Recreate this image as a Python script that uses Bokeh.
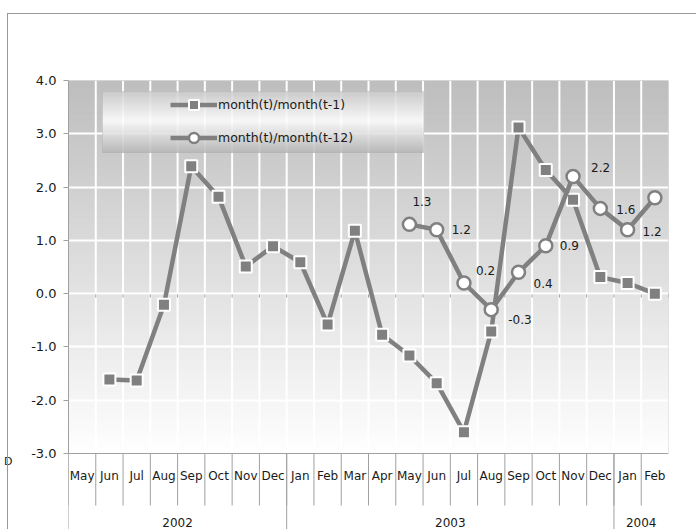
import numpy as np
from bokeh.plotting import figure
from bokeh.models import (Range1d, FixedTicker, Legend, LegendItem, InlineStyleSheet, LinearAxis,
                          BoxAnnotation, ColumnDataSource, NumeralTickFormatter)
from bokeh.embed import file_html
from bokeh.resources import INLINE

# ---------------- data ----------------
months = ["May", "Jun", "Jul", "Aug", "Sep", "Oct", "Nov", "Dec",
          "Jan", "Feb", "Mar", "Apr", "May", "Jun", "Jul", "Aug", "Sep", "Oct", "Nov", "Dec",
          "Jan", "Feb"]
years = ["2002", "2003", "2004"]
year_counts = [8, 12, 2]
mom = [np.nan, -1.61, -1.63, -0.21, 2.39, 1.82, 0.51, 0.89,
       0.59, -0.58, 1.18, -0.77, -1.16, -1.68, -2.60, -0.71, 3.12, 2.32, 1.76, 0.31,
       0.20, 0.0]
yoy = [np.nan] * 12 + [1.3, 1.2, 0.2, -0.3, 0.4, 0.9, 2.2, 1.6, 1.2, 1.8]
y_ticks = [-3, -2, -1, 0, 1, 2, 3, 4]
legend_labels = ["month(t)/month(t-1)", "month(t)/month(t-12)"]
stray_title = "D"

# label placement (screen px relative to point), styling only
label_dx = [3, 15, 12, 17, 15, 14, 18, 16, 15, 16]
label_dy = [-23, 0, -12, 10, 11, 0, -9, 1, 2, 2]

FONT = "DejaVu Sans"
GRAY = "#808080"
AXIS_GRAY = "#a0a0a0"
TXT = "#1a1a1a"

W, H = 696, 529
F_LEFT, F_RIGHT, F_TOP = 68, 28, 80
PLOT_BOTTOM_PX = 453          # pixel row of the lowest y tick
STRAY_PX = 461                # pixel row of the stray letter
n = len(months)
x = list(range(n))
bounds = [i - 0.5 for i in range(n + 1)]
y_min, y_max = min(y_ticks), max(y_ticks)
px_per_unit = (PLOT_BOTTOM_PX - F_TOP) / (y_max - y_min)
y_start = y_max - (H - F_TOP) / px_per_unit

p = figure(width=W, height=H, x_range=Range1d(bounds[0], bounds[-1]), y_range=Range1d(y_start, y_max),
           x_axis_location=None, output_backend="svg", toolbar_location=None,
           min_border_left=F_LEFT, min_border_right=F_RIGHT, min_border_top=F_TOP, min_border_bottom=0,
           background_fill_color="white", border_fill_color="white",
           outline_line_color=None)
p.xgrid.visible = False

# background gradient (plot area only)
ns = 120
edges = np.linspace(y_min, y_max, ns + 1)
mids = (edges[:-1] + edges[1:]) / 2
t = (mids - y_min) / (y_max - y_min)
g = 255 - t * (255 - 190)
cols = ["#%02x%02x%02x" % (int(v), int(v), int(v)) for v in g]
p.quad(left=bounds[0], right=bounds[-1], bottom=edges[:-1], top=edges[1:],
       fill_color=cols, line_color=cols, line_width=1, level="image")

# grids
p.ygrid.grid_line_color = "white"
p.ygrid.grid_line_width = 2
p.segment(x0=bounds[1:-1], y0=y_min, x1=bounds[1:-1], y1=y_max, line_color="white",
          line_width=2, level="underlay")
# frame top / right borders and bottom axis line
p.segment(x0=[bounds[0], bounds[-1]], y0=[y_max, y_min], x1=[bounds[-1], bounds[-1]], y1=[y_max, y_max],
          line_color="#d4d4d4", line_width=1, level="underlay")
p.segment(x0=bounds[0], y0=y_min, x1=bounds[-1], y1=y_min, line_color=AXIS_GRAY, line_width=1)

# y axis
ya = p.yaxis[0]
ya.ticker = FixedTicker(ticks=y_ticks)
ya.bounds = (y_min, y_max)
ya.formatter = NumeralTickFormatter(format="0.0")
ya.axis_line_color = AXIS_GRAY
ya.major_tick_line_color = AXIS_GRAY
ya.major_tick_out = 5
ya.major_tick_in = 0
ya.minor_tick_line_color = None
ya.major_label_text_font = FONT
ya.major_label_text_font_size = "13px"
ya.major_label_text_color = TXT
ya.major_label_standoff = 7

# stray clipped title letter at far left, as a second (label-only) left axis
y_stray = y_min - (STRAY_PX - PLOT_BOTTOM_PX) / px_per_unit
ax_s = LinearAxis(ticker=FixedTicker(ticks=[y_stray]), major_label_overrides={y_stray: stray_title})
ax_s.axis_line_color = None
ax_s.major_tick_line_color = None
ax_s.minor_tick_line_color = None
ax_s.major_tick_out = 0
ax_s.major_tick_in = 0
ax_s.major_label_standoff = 16
ax_s.major_label_text_font = FONT
ax_s.major_label_text_font_size = "11px"
ax_s.major_label_text_color = TXT
p.add_layout(ax_s, "left")

# zero line + its small ticks
p.segment(x0=bounds[0], y0=0, x1=bounds[-1], y1=0, line_color=AXIS_GRAY, line_width=1, level="underlay")
p.ray(x=bounds, y=[0] * len(bounds), length=4, length_units="screen", angle=-np.pi / 2,
      line_color=AXIS_GRAY, line_width=1, level="underlay")

# category axis: month labels and separators
p.ray(x=bounds[:-1], y=[y_min] * n, length=52, length_units="screen", angle=-np.pi / 2,
      line_color=AXIS_GRAY, line_width=1)
p.text(x=x, y=[y_min] * n, text=months, y_offset=22, text_align="center", text_baseline="middle",
       text_font={"value": FONT}, text_font_size="12px", text_color=TXT)

# year groups
ycent, ybounds, start = [], [], bounds[0]
for c in year_counts:
    ybounds.append(start)
    ycent.append(start + c / 2.0)
    start += c
p.ray(x=ybounds, y=[y_min] * len(ybounds), length=90, length_units="screen", angle=-np.pi / 2,
      line_color=AXIS_GRAY, line_width=1)
p.text(x=ycent, y=[y_min] * len(ycent), text=years, y_offset=69, text_align="center",
       text_baseline="middle", text_font={"value": FONT}, text_font_size="12px", text_color=TXT)

# series
src = ColumnDataSource(dict(x=x, mom=mom, yoy=yoy))
l1 = p.line("x", "mom", source=src, line_color=GRAY, line_width=4.5)
s1 = p.scatter("x", "mom", source=src, marker="square", size=12, fill_color=GRAY,
               line_color="white", line_width=2)
l2 = p.line("x", "yoy", source=src, line_color=GRAY, line_width=4.5)
s2 = p.scatter("x", "yoy", source=src, marker="circle", size=13, fill_color="white",
               line_color=GRAY, line_width=2.5)

# data labels for yoy
lx = [i for i, v in zip(x, yoy) if not np.isnan(v)]
ly = [v for v in yoy if not np.isnan(v)]
lsrc = ColumnDataSource(dict(x=lx, y=ly, text=["%.1f" % v for v in ly],
                             dx=label_dx, dy=label_dy))
p.text("x", "y", text="text", source=lsrc, x_offset="dx", y_offset="dy",
       text_align="left", text_baseline="middle", text_font_size="12px",
       text_color=TXT, text_font={"value": FONT})

# legend box (gradient), screen units relative to frame bottom-left
lb_left, lb_right, lb_top, lb_bot = 102 - F_LEFT, 423 - F_LEFT, H - 91, H - 152
hgt = lb_top - lb_bot
for k in range(hgt):
    f = (k + 0.5) / hgt
    if f < 0.48:
        v = 205 + (255 - 205) * f / 0.48
    else:
        v = 255 - (255 - 182) * (f - 0.48) / 0.52
    c = "#%02x%02x%02x" % (int(v), int(v), int(v))
    p.add_layout(BoxAnnotation(left=lb_left, right=lb_right, top=lb_top - k, bottom=lb_top - k - 1.2,
                               left_units="screen", right_units="screen", top_units="screen",
                               bottom_units="screen", fill_color=c, fill_alpha=1, line_color=None))
p.add_layout(BoxAnnotation(left=lb_left, right=lb_right, top=lb_top, bottom=lb_bot,
                           left_units="screen", right_units="screen", top_units="screen",
                           bottom_units="screen", fill_alpha=0, line_color="#a8a8a8", line_width=1))

legend = Legend(items=[LegendItem(label=legend_labels[0], renderers=[l1, s1]),
                       LegendItem(label=legend_labels[1], renderers=[l2, s2])],
                location=(170 - F_LEFT, H - 150), orientation="vertical", padding=0, spacing=8,
                glyph_width=47, glyph_height=25, label_standoff=1,
                background_fill_alpha=0, border_line_color=None,
                label_text_font=FONT, label_text_font_size="12.5px", label_text_color=TXT)
p.add_layout(legend)

# outer chart border (left and top edges visible in the window)
p.stylesheets = [InlineStyleSheet(css="""
:host { position: relative; }
:host::after {
  content: ""; position: absolute; left: 7px; top: 13px;
  width: %dpx; height: %dpx;
  border-left: 1.5px solid #999999; border-top: 1.5px solid #999999;
  pointer-events: none; z-index: 10; box-sizing: border-box;
}
""" % (W - 7, H - 13))]

open("out.html", "w").write(file_html(p, INLINE))
